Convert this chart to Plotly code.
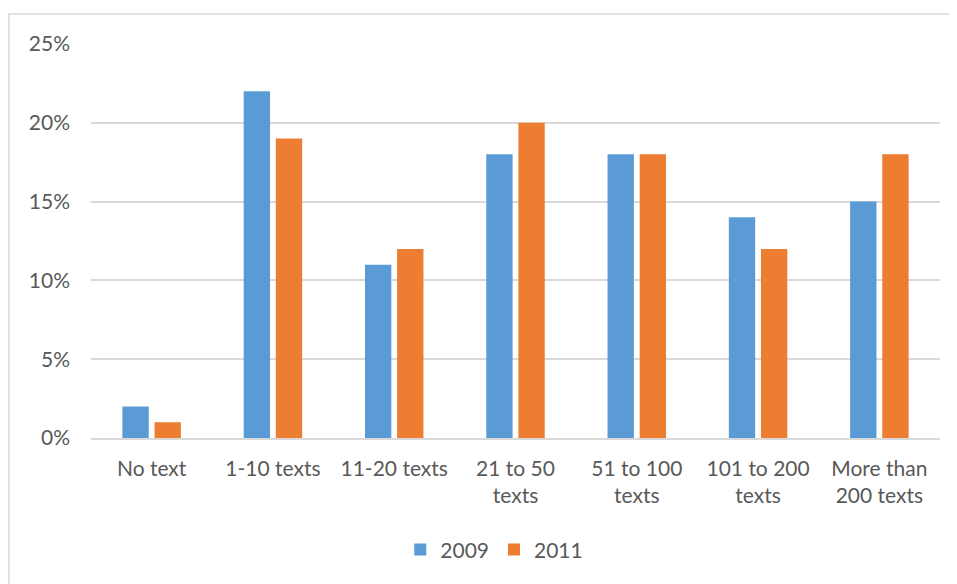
import plotly.graph_objects as go

categories = ["No text", "1-10 texts", "11-20 texts", "21 to 50<br>texts",
              "51 to 100<br>texts", "101 to 200<br>texts", "More than<br>200 texts"]
values_2009 = [0.02, 0.22, 0.11, 0.18, 0.18, 0.14, 0.15]
values_2011 = [0.01, 0.19, 0.12, 0.20, 0.18, 0.12, 0.18]
y_ticks = [0, 0.05, 0.10, 0.15, 0.20, 0.25]

blue = "#5b9bd5"
orange = "#ed7d31"
text_col = "#595959"
grid_col = "#d9d9d9"

# page is drawn with an 8px body offset, so margins are shifted to match
ml, mr, mt, mb = 83, 25, 36, 154
plot_w = 957 - ml - mr
plot_h = 584 - mt - mb

fig = go.Figure()
fig.add_trace(go.Bar(x=categories, y=values_2009, name="2009", marker_color=blue,
                     marker_line_width=0))
fig.add_trace(go.Bar(x=categories, y=values_2011, name="2011", marker_color=orange,
                     marker_line_width=0))

fig.update_layout(
    width=957, height=584,
    margin=dict(l=ml, r=mr, t=mt, b=mb),
    paper_bgcolor="white", plot_bgcolor="white",
    font=dict(family="Lato, Open Sans, sans-serif", size=21, color=text_col),
    barmode="group", bargap=0.47, bargroupgap=0.18,
    showlegend=True,
    legend=dict(orientation="h", x=0.475, xanchor="center", y=-0.284, yanchor="middle",
                font=dict(size=21, color=text_col), itemwidth=30, traceorder="normal"),
    shapes=[dict(type="rect", xref="paper", yref="paper",
                 x0=(1 - ml) / plot_w, x1=1.2, y0=-0.6, y1=1 + (mt - 6) / plot_h,
                 line=dict(color=grid_col, width=1.5), layer="below")],
)
fig.update_yaxes(range=[0, 0.25], tickvals=y_ticks, tickformat=".0%",
                 showgrid=True, gridcolor=grid_col, gridwidth=1.5,
                 zeroline=False, showline=False, ticks="", ticklabelstandoff=20)
fig.update_xaxes(showline=True, linecolor=grid_col, linewidth=1.5, ticks="",
                 tickangle=0, showgrid=False, ticklabelstandoff=11)

fig.write_html("out.html")
